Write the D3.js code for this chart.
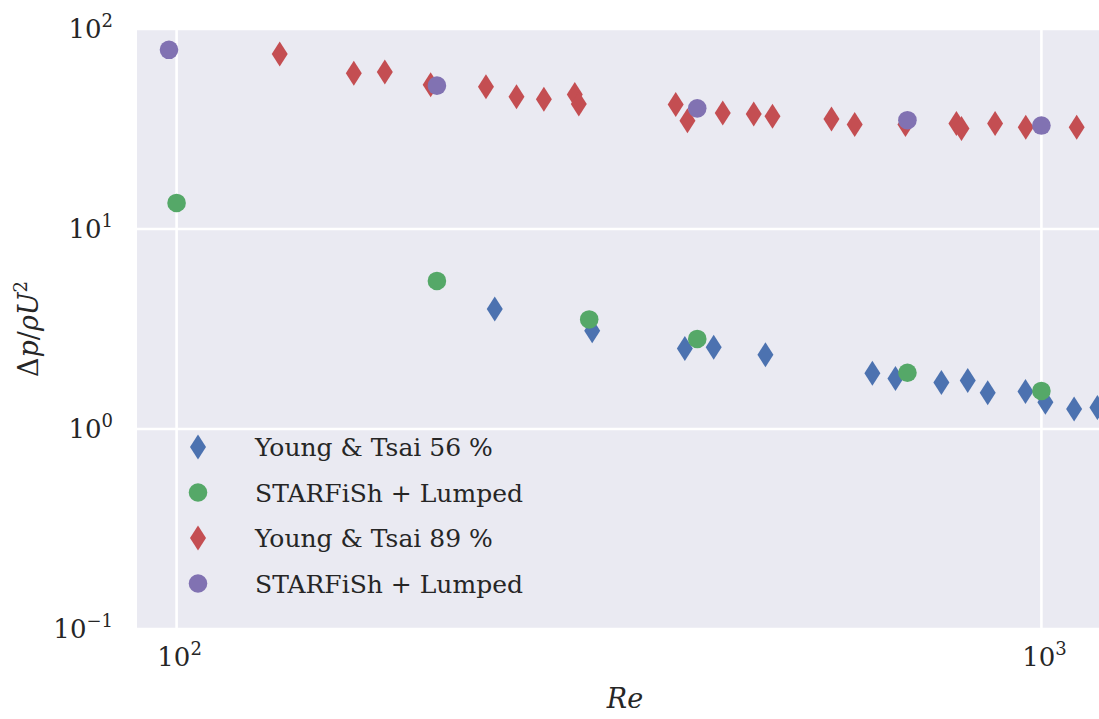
<!DOCTYPE html>
<html>
<head>
<meta charset="utf-8">
<script src="https://cdn.jsdelivr.net/npm/d3@7"></script>
<style>
  html, body { margin: 0; padding: 0; background: #ffffff; }
  svg { display: block; }
</style>
</head>
<body>
<svg id="chart" width="1099" height="719"></svg>
<script>
// Young & Tsai, 56 % stenosis
const reYT56 = [233.3, 302.4, 387.0, 417.9, 479.6, 637.6, 678.0, 766.2, 821.9, 866.8, 958.5, 1010.7, 1091, 1160.8];
const dpYT56 = [3.98, 3.10, 2.53, 2.56, 2.35, 1.90, 1.79, 1.71, 1.75, 1.52, 1.54, 1.36, 1.26, 1.28];

// STARFiSh + lumped model, 56 % stenosis
const reSL56 = [100, 200, 300, 400, 700, 1000];
const dpSL56 = [13.5, 5.50, 3.53, 2.82, 1.91, 1.55];

// Young & Tsai, 89 % stenosis
const reYT89 = [131.6, 160.3, 174.1, 196.7, 227.9, 247.2, 265.9, 288.7, 291.8, 377.7, 389.7, 428.1,
                464.9, 488.7, 571.8, 608.3, 696.3, 797.5, 808.3, 884.0, 959.2, 1098.5];
const dpYT89 = [74.9, 60.0, 60.9, 52.7, 51.5, 45.9, 44.5, 47.0, 42.2, 41.9, 34.8, 38.0,
                37.6, 36.6, 35.5, 33.3, 33.3, 33.7, 31.8, 33.7, 32.3, 32.3];

// STARFiSh + lumped model, 89 % stenosis
const reSL89 = [98.0, 200, 400, 700, 1000];
const dpSL89 = [78.7, 52.1, 40.1, 35.0, 32.9];

const seriesLabels = ["Young & Tsai 56 %", "STARFiSh + Lumped", "Young & Tsai 89 %", "STARFiSh + Lumped"];
const seriesColors = ["#4C72B0", "#55A868", "#C44E52", "#8172B2"];
const seriesMarkers = ["diamond", "circle", "diamond", "circle"];

const xLim = [90, 1210];
const yLim = [0.1, 100];
const xTickValues = [100, 1000];
const xTickExps = ["2", "3"];
const yTickValues = [0.1, 1, 10, 100];
const yTickExps = ["\u22121", "0", "1", "2"];

const W = 1099, H = 719;
const plot = { left: 137, top: 29, right: 1113, bottom: 629 };
const FONT = "'DejaVu Serif', serif";

const svg = d3.select("#chart");

const x = d3.scaleLog().domain(xLim).range([plot.left, plot.right]);
const y = d3.scaleLog().domain(yLim).range([plot.bottom, plot.top]);

// plot background
svg.append("rect")
  .attr("x", plot.left).attr("y", plot.top)
  .attr("width", plot.right - plot.left).attr("height", plot.bottom - plot.top)
  .attr("fill", "#EAEAF2");

svg.append("clipPath").attr("id", "plotclip")
  .append("rect")
  .attr("x", plot.left).attr("y", plot.top)
  .attr("width", plot.right - plot.left).attr("height", plot.bottom - plot.top);

// white grid lines at the major decades
const grid = svg.append("g").attr("clip-path", "url(#plotclip)");
grid.selectAll("line.gx").data(xTickValues).join("line")
  .attr("class", "gx")
  .attr("x1", d => x(d)).attr("x2", d => x(d))
  .attr("y1", plot.top).attr("y2", plot.bottom)
  .attr("stroke", "#ffffff").attr("stroke-width", 2.6);
grid.selectAll("line.gy").data(yTickValues).join("line")
  .attr("class", "gy")
  .attr("x1", plot.left).attr("x2", plot.right)
  .attr("y1", d => y(d)).attr("y2", d => y(d))
  .attr("stroke", "#ffffff").attr("stroke-width", 2.6);

// tick labels with superscript exponents
const tickFont = 26, supFont = 18;
function powerLabel(sel, exps) {
  sel.each(function (d, i) {
    const t = d3.select(this);
    t.append("tspan").text("10");
    t.append("tspan").attr("dy", -11).attr("font-size", supFont).text(exps[i]);
  });
}

svg.append("g").selectAll("text").data(yTickValues).join("text")
  .attr("x", plot.left - 24)
  .attr("y", d => y(d) + 9)
  .attr("text-anchor", "end")
  .attr("font-family", FONT).attr("font-size", tickFont).attr("fill", "#262626")
  .call(powerLabel, yTickExps);

svg.append("g").selectAll("text").data(xTickValues).join("text")
  .attr("x", d => x(d) + 3)
  .attr("y", plot.bottom + 37)
  .attr("text-anchor", "middle")
  .attr("font-family", FONT).attr("font-size", tickFont).attr("fill", "#262626")
  .call(powerLabel, xTickExps);

// axis labels
svg.append("text")
  .attr("x", (plot.left + plot.right) / 2)
  .attr("y", 708)
  .attr("text-anchor", "middle")
  .attr("font-family", FONT).attr("font-size", 27).attr("font-style", "italic")
  .attr("fill", "#262626")
  .text("Re");

const yl = svg.append("text")
  .attr("transform", `translate(38, ${(plot.top + plot.bottom) / 2}) rotate(-90)`)
  .attr("text-anchor", "middle")
  .attr("font-family", FONT).attr("font-size", 27)
  .attr("fill", "#262626");
yl.append("tspan").text("\u0394");
yl.append("tspan").attr("font-style", "italic").text("p");
yl.append("tspan").text("/");
yl.append("tspan").attr("font-style", "italic").text("\u03C1U");
yl.append("tspan").attr("dy", -11).attr("font-size", 18).text("2");

// marker shapes
const DIA_H = 12.5, DIA_W = 8, CIRC_R = 9.3;
function diamondPath(cx, cy) {
  return `M${cx},${cy - DIA_H}L${cx + DIA_W},${cy}L${cx},${cy + DIA_H}L${cx - DIA_W},${cy}Z`;
}
function drawMarkers(g, pts, kind, color) {
  if (kind === "diamond") {
    g.selectAll("path").data(pts).join("path")
      .attr("d", d => diamondPath(x(d[0]), y(d[1])))
      .attr("fill", color);
  } else {
    g.selectAll("circle").data(pts).join("circle")
      .attr("cx", d => x(d[0])).attr("cy", d => y(d[1]))
      .attr("r", CIRC_R)
      .attr("fill", color);
  }
}

const series = [
  d3.zip(reYT56, dpYT56),
  d3.zip(reSL56, dpSL56),
  d3.zip(reYT89, dpYT89),
  d3.zip(reSL89, dpSL89)
];

const marks = svg.append("g").attr("clip-path", "url(#plotclip)");
series.forEach((pts, i) => {
  drawMarkers(marks.append("g"), pts, seriesMarkers[i], seriesColors[i]);
});

// legend
const legendFont = 25;
const lg = svg.append("g");
seriesLabels.forEach((label, i) => {
  const cy = 447 + i * 45.5;
  const cx = 198;
  if (seriesMarkers[i] === "diamond") {
    lg.append("path").attr("d", diamondPath(cx, cy)).attr("fill", seriesColors[i]);
  } else {
    lg.append("circle").attr("cx", cx).attr("cy", cy).attr("r", CIRC_R).attr("fill", seriesColors[i]);
  }
  lg.append("text")
    .attr("x", 255).attr("y", cy + 9)
    .attr("font-family", FONT).attr("font-size", legendFont)
    .attr("fill", "#262626")
    .text(label);
});
</script>
</body>
</html>
